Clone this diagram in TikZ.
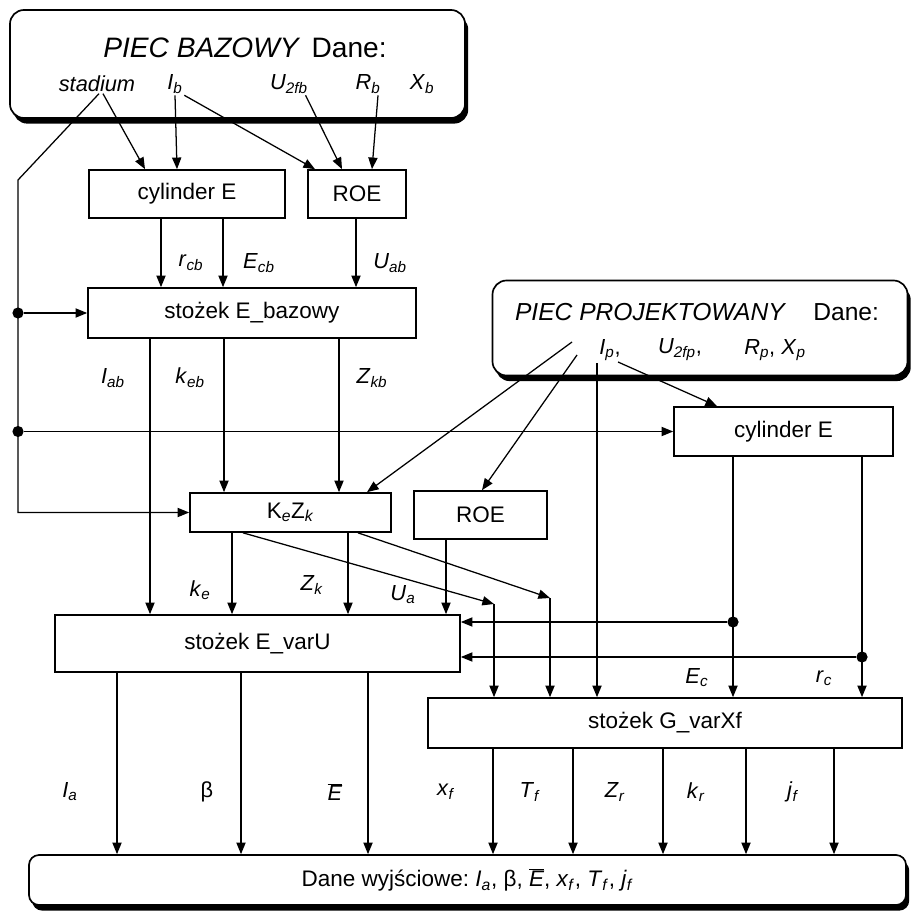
\documentclass[tikz,border=0pt]{standalone}
\usepackage{fontspec}
\setmainfont{Liberation Sans}
\usetikzlibrary{arrows.meta, shadows}

\newcommand{\vs}[2]{\textit{#1}\textsubscript{\textit{#2}}}
\newcommand{\ebar}{$\overline{\mbox{\itshape E}}$}

\begin{document}
\begin{tikzpicture}[
            x=0.25mm, y=-0.25mm,
            box/.style={draw, line width=1.2pt, minimum height=12mm, inner sep=0pt,
                        font=\fontsize{16}{19}\selectfont},
            databox/.style={draw, line width=1.2pt, rounded corners=3.5mm, fill=white,
                        inner sep=0pt, font=\fontsize{16}{19}\selectfont,
                        general shadow={fill=black, shadow xshift=0.8mm, shadow yshift=-1.4mm}},
            ttl/.style={font=\fontsize{17.5}{21}\selectfont, inner sep=0pt},
            lbl/.style={font=\fontsize{15.5}{18}\selectfont, inner sep=1pt},
            arr/.style={-{Triangle[length=2.9mm, width=2.3mm]}, line width=0.9pt},
            dot/.style={circle, fill, inner sep=0pt, minimum size=2.8mm}]

            \useasboundingbox (0,0) rectangle (912,913);

            %% columns and free ends
            \foreach \n/\cx in {stc/145, ibc/177, ibr/315, ufr/342, rbr/372,
                                rcb/161, ecb/223, uab/356, iab/150, keb/224, zkb/339,
                                kzin/367, roein/482, cylin/717, ke/232, zk/348, ua/446,
                                kd1/243, kd2/358, ec/733, rc/862,
                                ia/117, beta/241, eb/368, xf/493, tf/573, zr/663, kr/746, jf/834}
                \coordinate (\n) at (\cx,0);
            \coordinate (bend) at (18,180);
            \coordinate (h1)   at (0,622);
            \coordinate (h2)   at (0,657);
            \coordinate (p1)   at (572,342);
            \coordinate (p2)   at (577,355);
            \coordinate (p3)   at (597,363);
            \coordinate (p4)   at (618,362);
            \coordinate (kd1e) at (494,604);
            \coordinate (kd2e) at (550,598);

            %% data boxes
            \node[databox, minimum width=113.75mm, minimum height=27mm] (base) at (237.5,64) {};
            \node[ttl, font=\fontsize{20}{24}\selectfont] (basettl) at (245,48)
                {\textit{PIEC BAZOWY}\hspace{0.4em}Dane:};
            \node[lbl] (stadium) at (97,84)  {\textit{stadium}};
            \node[lbl] (Ib)      at (175,84) {\vs{I}{b}};
            \node[lbl] (U2fb)    at (289,84) {\vs{U}{2fb}};
            \node[lbl] (Rb)      at (368,84) {\vs{R}{b}};
            \node[lbl] (Xb)      at (422,84) {\vs{X}{b}};

            \node[databox, minimum width=103.75mm, minimum height=23.75mm] (proj) at (700,328) {};
            \node[ttl] (projttl) at (697,312) {\textit{PIEC PROJEKTOWANY}\hspace{1.1em}Dane:};
            \node[lbl] (Ip)   at (610,350) {\vs{I}{p},};
            \node[lbl] (U2fp) at (680,350) {\vs{U}{2fp},};
            \node[lbl] (RpXp) at (775,350) {\vs{R}{p}, \vs{X}{p}};

            \node[databox, minimum width=219.25mm, minimum height=12.5mm, rounded corners=2.5mm]
                (dane) at (467.5,880)
                {Dane wyjściowe:\ \vs{I}{a}, β, \ebar,\ \vs{x}{f}, \vs{T}{f}, \vs{j}{f}};

            %% blocks
            \node[box, minimum width=49mm]    (cylb) at (187,194)   {cylinder E};
            \node[box, minimum width=24.5mm]  (roeb) at (357,194)   {ROE};
            \node[box, minimum width=82mm, minimum height=12.5mm] (ebaz) at (252,313) {stożek E\_bazowy};
            \node[box, minimum width=54.75mm, minimum height=12.25mm] (cyl2) at (783.5,431.5) {cylinder E};
            \node[box, minimum width=50.25mm, minimum height=9.75mm]  (kz) at (290.5,512.5)
                {K\textsubscript{\textit{e}}Z\textsubscript{\textit{k}}};
            \node[box, minimum width=33.25mm] (roe2) at (480.5,515) {ROE};
            \node[box, minimum width=101.25mm, minimum height=14.25mm] (evu) at (257.5,643.5) {stożek E\_varU};
            \node[box, minimum width=118.5mm, minimum height=12.5mm] (gvx) at (665,723) {stożek G\_varXf};

            %% piec bazowy
            \draw[arr] ([xshift=1.5mm]stadium.south) -- (cylb.north -| stc);
            \draw[arr] ([xshift=0.5mm]stadium.south) -- (bend) |- (kz.west);
            \draw[arr] (Ib.south) -- (cylb.north -| ibc);
            \draw[arr] (Ib.south east) -- (roeb.north -| ibr);
            \draw[arr] ([xshift=-1mm]U2fb.south east) -- (roeb.north -| ufr);
            \draw[arr] ([xshift=2.5mm]Rb.south) -- (roeb.north -| rbr);

            \draw[arr] (cylb.south -| rcb) -- (ebaz.north -| rcb);
            \draw[arr] (cylb.south -| ecb) -- (ebaz.north -| ecb);
            \draw[arr] (roeb.south -| uab) -- (ebaz.north -| uab);
            \node[lbl] (lrcb) at (191,263) {\vs{r}{cb}};
            \node[lbl] (lecb) at (259,263) {\vs{E}{cb}};
            \node[lbl] (luab) at (390,263) {\vs{U}{ab}};

            \node[dot] (j1) at (bend |- ebaz.west) {};
            \draw[arr] (j1) -- (ebaz.west);
            \node[dot] (j2) at (bend |- cyl2.west) {};
            \draw[arr] (j2) -- (cyl2.west);

            \draw[arr] (ebaz.south -| iab) -- (evu.north -| iab);
            \draw[arr] (ebaz.south -| keb) -- (kz.north -| keb);
            \draw[arr] (ebaz.south -| zkb) -- (kz.north -| zkb);
            \node[lbl] (liab) at (113,378) {\vs{I}{ab}};
            \node[lbl] (lkeb) at (190,378) {\vs{k}{eb}};
            \node[lbl] (lzkb) at (372,378) {\vs{Z}{kb}};

            %% piec projektowany
            \draw[arr] (p1) -- (kz.north -| kzin);
            \draw[arr] (p2) -- (roe2.north -| roein);
            \draw[arr] (p3) -- (gvx.north -| p3);
            \draw[arr] (p4) -- (cyl2.north -| cylin);

            %% KeZk and ROE
            \draw[arr] (kz.south -| ke) -- (evu.north -| ke);
            \draw[arr] (kz.south -| zk) -- (evu.north -| zk);
            \draw[arr] (kz.south -| kd1) -- (kd1e);
            \draw[arr] (kd1e) -- (gvx.north -| kd1e);
            \draw[arr] (kz.south -| kd2) -- (kd2e);
            \draw[arr] (kd2e) -- (gvx.north -| kd2e);
            \draw[arr] (roe2.south -| ua) -- (evu.north -| ua);
            \node[lbl] (lke) at (200,590) {\vs{k}{e}};
            \node[lbl] (lzk) at (312,585) {\vs{Z}{k}};
            \node[lbl] (lua) at (403,595) {\vs{U}{a}};

            %% cylinder E (projektowany)
            \draw[arr] (cyl2.south -| ec) -- (gvx.north -| ec);
            \draw[arr] (cyl2.south -| rc) -- (gvx.north -| rc);
            \node[dot] (j3) at (ec |- h1) {};
            \draw[arr] (j3) -- (j3 -| evu.east);
            \node[dot] (j4) at (rc |- h2) {};
            \draw[arr] (j4) -- (j4 -| evu.east);
            \node[lbl] (lec) at (697,678) {\vs{E}{c}};
            \node[lbl] (lrc) at (824,678) {\vs{r}{c}};

            %% wyjscie
            \foreach \c in {ia, beta, eb}
                \draw[arr] (evu.south -| \c) -- (dane.north -| \c);
            \foreach \c in {xf, tf, zr, kr, jf}
                \draw[arr] (gvx.south -| \c) -- (dane.north -| \c);
            \node[lbl] (lia)   at (70,792)  {\vs{I}{a}};
            \node[lbl] (lbeta) at (207,792) {β};
            \node[lbl] (leb)   at (335,792) {\ebar};
            \node[lbl] (lxf)   at (446,792) {\vs{x}{f}};
            \node[lbl] (ltf)   at (530,792) {\vs{T}{f}};
            \node[lbl] (lzr)   at (615,792) {\vs{Z}{r}};
            \node[lbl] (lkr)   at (696,792) {\vs{k}{r}};
            \node[lbl] (ljf)   at (793,792) {\vs{j}{f}};

\end{tikzpicture}
\end{document}
